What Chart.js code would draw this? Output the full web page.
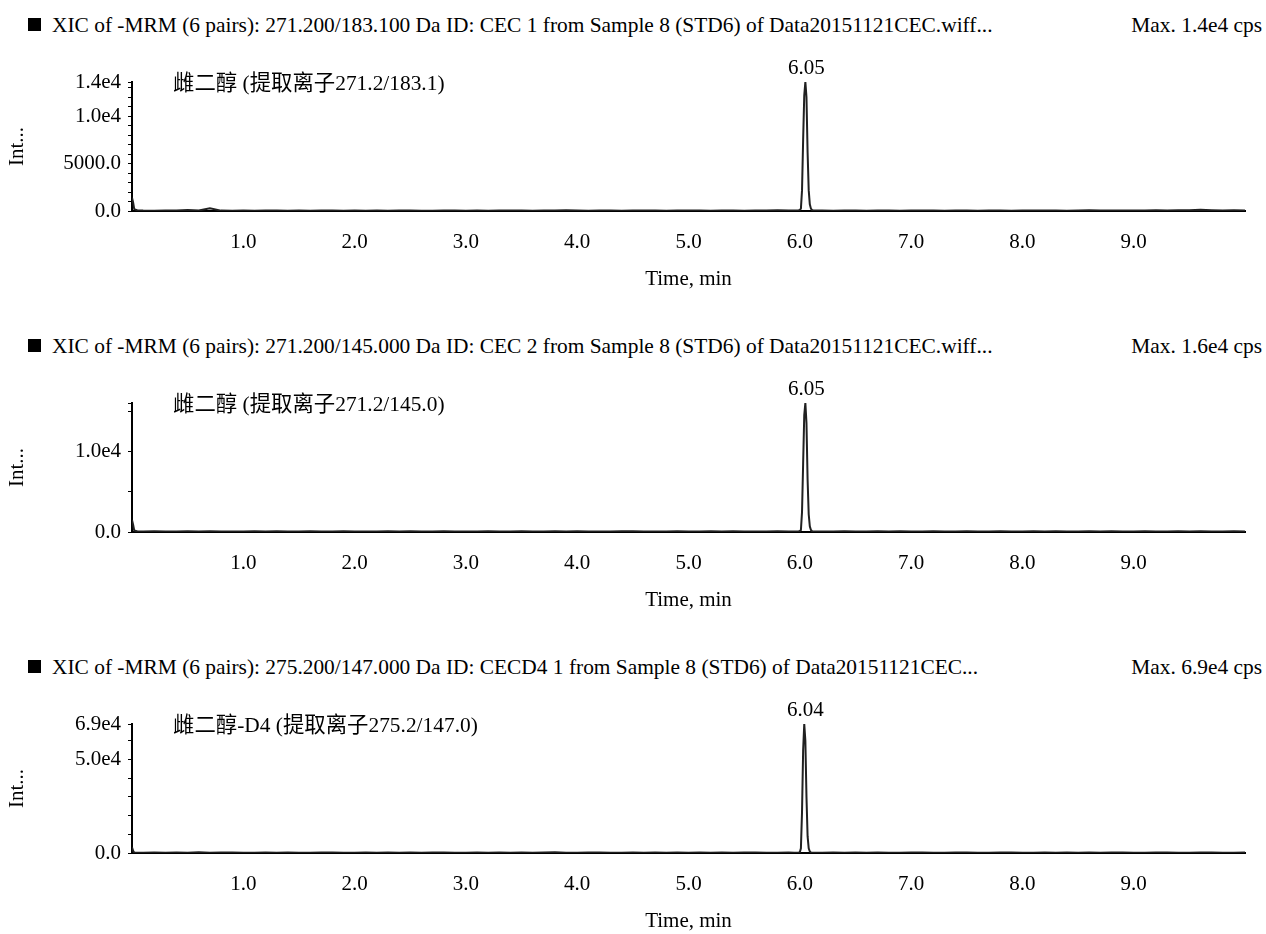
<!DOCTYPE html>
<html>
<head>
<meta charset="utf-8">
<script src="https://cdn.jsdelivr.net/npm/chart.js@4.4.1/dist/chart.umd.min.js"></script>
<style>
  body { margin: 0; background: #fff; width: 1266px; height: 934px; overflow: hidden; position: relative;
         font-family: "Liberation Serif", "Noto Sans CJK SC", serif; color: #000; }
  .head { position: absolute; left: 0; width: 1266px; height: 24px; line-height: 24px; font-size: 21.4px; white-space: nowrap; }
  .head .box { position: absolute; left: 28px; top: 5px; width: 13px; height: 13px; background: #000; }
  .head .txt { position: absolute; left: 52px; }
  .head .max { position: absolute; right: 4px; }
  canvas { position: absolute; left: 0; }
</style>
</head>
<body>
<script>
// retention time grid (min), split in three parts
const baseTimes = [0, 0.01, 0.02, 0.05,
  0.1, 0.2, 0.3, 0.4, 0.5, 0.6, 0.7, 0.8, 0.9, 1.0,
  1.1, 1.2, 1.3, 1.4, 1.5, 1.6, 1.7, 1.8, 1.9, 2.0,
  2.1, 2.2, 2.3, 2.4, 2.5, 2.6, 2.7, 2.8, 2.9, 3.0,
  3.1, 3.2, 3.3, 3.4, 3.5, 3.6, 3.7, 3.8, 3.9, 4.0,
  4.1, 4.2, 4.3, 4.4, 4.5, 4.6, 4.7, 4.8, 4.9, 5.0,
  5.1, 5.2, 5.3, 5.4, 5.5, 5.6, 5.7, 5.8, 5.9];
const peakTimes = [5.95, 5.98, 5.99, 6.00, 6.01, 6.02, 6.03, 6.04, 6.05, 6.06, 6.07, 6.08, 6.09, 6.10, 6.11, 6.12, 6.15];
const tailTimes = [6.2, 6.3, 6.4, 6.5, 6.6, 6.7, 6.8, 6.9, 7.0,
  7.1, 7.2, 7.3, 7.4, 7.5, 7.6, 7.7, 7.8, 7.9, 8.0,
  8.1, 8.2, 8.3, 8.4, 8.5, 8.6, 8.7, 8.8, 8.9, 9.0,
  9.1, 9.2, 9.3, 9.4, 9.5, 9.6, 9.7, 9.8, 9.9, 10.0];

// CEC 1 : 271.2/183.1 (cps)
const cec1Base = [1400, 900, 200, 60,
  40, 30, 50, 60, 100, 50, 280, 40, 30, 50,
  30, 50, 40, 20, 60, 30, 40, 50, 30, 40,
  20, 40, 30, 50, 40, 30, 20, 40, 50, 30,
  40, 30, 50, 40, 60, 30, 40, 50, 70, 40,
  30, 50, 40, 30, 40, 60, 40, 30, 50, 40,
  40, 30, 50, 40, 30, 50, 40, 90, 60];
const cec1Peak = [50, 60, 80, 120, 250, 2200, 7500, 12200, 13600, 12000, 6200, 2200, 700, 250, 100, 60, 40];
const cec1Tail = [40, 30, 50, 40, 30, 40, 50, 30, 40,
  50, 40, 30, 60, 40, 30, 50, 40, 30, 40,
  50, 40, 60, 30, 40, 70, 50, 40, 60, 50,
  60, 80, 50, 70, 90, 120, 80, 60, 70, 50];

// CEC 2 : 271.2/145.0 (cps)
const cec2Base = [1500, 900, 200, 60,
  60, 80, 50, 70, 90, 60, 80, 50, 70, 60,
  80, 60, 90, 50, 70, 80, 60, 70, 90, 60,
  70, 50, 80, 60, 90, 70, 60, 80, 50, 70,
  60, 90, 70, 50, 80, 60, 70, 90, 60, 80,
  50, 70, 60, 80, 90, 60, 70, 50, 80, 60,
  70, 90, 60, 80, 50, 70, 60, 80, 70];
const cec2Peak = [60, 70, 90, 120, 250, 2500, 8500, 14500, 16000, 13500, 6500, 2200, 700, 250, 100, 60, 50];
const cec2Tail = [70, 60, 80, 50, 70, 90, 60, 80, 70,
  60, 80, 50, 70, 90, 60, 70, 80, 60, 70,
  90, 60, 80, 70, 50, 80, 60, 90, 70, 60,
  80, 70, 60, 90, 70, 80, 60, 70, 80, 60];

// CECD4 1 : 275.2/147.0 (cps)
const cecd4Base = [3000, 1200, 300, 150,
  200, 300, 150, 250, 200, 350, 150, 250, 300, 200,
  150, 250, 200, 300, 150, 200, 250, 300, 200, 150,
  250, 200, 300, 150, 250, 200, 300, 250, 150, 200,
  300, 200, 250, 150, 300, 200, 250, 350, 200, 150,
  250, 300, 200, 150, 250, 200, 300, 150, 250, 200,
  300, 150, 250, 200, 300, 250, 150, 200, 250];
const cecd4Peak = [150, 200, 250, 400, 2500, 22000, 55000, 69000, 60000, 30000, 9000, 2500, 800, 300, 180, 150, 120];
const cecd4Tail = [200, 250, 150, 300, 200, 250, 150, 200, 300,
  250, 150, 200, 300, 250, 200, 150, 250, 300, 200,
  150, 250, 200, 300, 150, 250, 200, 300, 250, 150,
  200, 300, 250, 150, 200, 250, 300, 200, 150, 250];

// x axis ticks
const timeTicks = [1, 2, 3, 4, 5, 6, 7, 8, 9];

// y axis ticks (labelled) and minor marks
const cec1YTicks = [0, 5000, 10000, 13600];
const cec1YLabels = ['0.0', '5000.0', '1.0e4', '1.4e4'];
const cec1YMinor = [1000, 2000, 3000, 4000, 6000, 7000, 8000, 9000, 11000, 12000, 13000];
const cec2YTicks = [0, 10000];
const cec2YLabels = ['0.0', '1.0e4'];
const cec2YMinor = [5000, 15000, 16000];
const cecd4YTicks = [0, 50000, 69000];
const cecd4YLabels = ['0.0', '5.0e4', '6.9e4'];
const cecd4YMinor = [10000, 20000, 30000, 40000, 60000];

const panels = [
  { dy: 0, yMax: 13600, base: cec1Base, peak: cec1Peak, tail: cec1Tail,
    ticks: cec1YTicks, labels: cec1YLabels, minor: cec1YMinor,
    title: 'XIC of -MRM (6 pairs): 271.200/183.100 Da ID: CEC 1 from Sample 8 (STD6) of Data20151121CEC.wiff...',
    max: 'Max. 1.4e4 cps', compound: '雌二醇 (提取离子271.2/183.1)', peakText: '6.05' },
  { dy: 321, yMax: 16000, base: cec2Base, peak: cec2Peak, tail: cec2Tail,
    ticks: cec2YTicks, labels: cec2YLabels, minor: cec2YMinor,
    title: 'XIC of -MRM (6 pairs): 271.200/145.000 Da ID: CEC 2 from Sample 8 (STD6) of Data20151121CEC.wiff...',
    max: 'Max. 1.6e4 cps', compound: '雌二醇 (提取离子271.2/145.0)', peakText: '6.05' },
  { dy: 642, yMax: 69000, base: cecd4Base, peak: cecd4Peak, tail: cecd4Tail,
    ticks: cecd4YTicks, labels: cecd4YLabels, minor: cecd4YMinor,
    title: 'XIC of -MRM (6 pairs): 275.200/147.000 Da ID: CECD4 1 from Sample 8 (STD6) of Data20151121CEC...',
    max: 'Max. 6.9e4 cps', compound: '雌二醇-D4 (提取离子275.2/147.0)', peakText: '6.04' }
];

const FONT = '"Liberation Serif", "Noto Sans CJK SC", serif';
Chart.defaults.font.family = FONT;
Chart.defaults.font.size = 21;
Chart.defaults.color = '#000';

// compound name + retention time over the peak
const peakLabels = {
  id: 'peakLabels',
  afterDatasetsDraw(chart, args, opts) {
    const { ctx, chartArea, scales } = chart;
    const pts = chart.data.datasets[0].data;
    let top = pts[0];
    pts.forEach(p => { if (p.y > top.y) top = p; });
    ctx.save();
    ctx.font = '21.4px ' + FONT;
    ctx.fillStyle = '#000';
    ctx.textBaseline = 'middle';
    ctx.textAlign = 'left';
    ctx.fillText(opts.compound, chartArea.left + 41, chartArea.top + 2);
    ctx.font = '21px ' + FONT;
    ctx.textAlign = 'center';
    ctx.fillText(opts.peakText, scales.x.getPixelForValue(top.x) + 1, scales.y.getPixelForValue(top.y) - 14);
    ctx.restore();
  }
};

panels.forEach(p => {
  const head = document.createElement('div');
  head.className = 'head';
  head.style.top = (13 + p.dy) + 'px';
  head.innerHTML = '<span class="box"></span><span class="txt"></span><span class="max"></span>';
  head.querySelector('.txt').textContent = p.title;
  head.querySelector('.max').textContent = p.max;
  document.body.appendChild(head);

  const canvas = document.createElement('canvas');
  canvas.width = 1266;
  canvas.height = 260;
  canvas.style.top = (40 + p.dy) + 'px';
  document.body.appendChild(canvas);

  const times = baseTimes.concat(peakTimes, tailTimes);
  const values = p.base.concat(p.peak, p.tail);
  const points = times.map((t, i) => ({ x: t, y: values[i] }));
  const yAll = p.ticks.concat(p.minor).sort((a, b) => a - b);

  new Chart(canvas, {
    type: 'line',
    data: { datasets: [{ data: points, borderColor: '#202020', borderWidth: 2, pointRadius: 0, tension: 0 }] },
    options: {
      responsive: false,
      animation: false,
      layout: { padding: { top: 42, bottom: 8, left: 0, right: 21 } },
      plugins: {
        legend: { display: false },
        tooltip: { enabled: false },
        peakLabels: { compound: p.compound, peakText: p.peakText }
      },
      scales: {
        x: {
          type: 'linear', min: 0, max: 10,
          afterBuildTicks: s => { s.ticks = timeTicks.map(v => ({ value: v })); },
          afterFit: s => { s.height = 81; },
          ticks: { padding: 19, maxRotation: 0, autoSkip: false, callback: v => v.toFixed(1) },
          grid: { drawOnChartArea: false, drawTicks: false },
          border: { color: '#000', width: 2 },
          title: { display: true, text: 'Time, min', padding: { top: 0, bottom: 0 } }
        },
        y: {
          min: 0, max: p.yMax,
          afterBuildTicks: s => { s.ticks = yAll.map(v => ({ value: v })); },
          afterFit: s => { s.width = 132; },
          ticks: { padding: 7, autoSkip: false,
            callback: v => { const i = p.ticks.indexOf(v); return i >= 0 ? p.labels[i] : ''; } },
          grid: { drawOnChartArea: false, tickLength: 4, tickColor: '#000', tickWidth: 1 },
          border: { color: '#000', width: 2 },
          title: { display: true, text: 'Int...', padding: { top: 5, bottom: 0 } }
        }
      }
    },
    plugins: [peakLabels]
  });
});
</script>
</body>
</html>
